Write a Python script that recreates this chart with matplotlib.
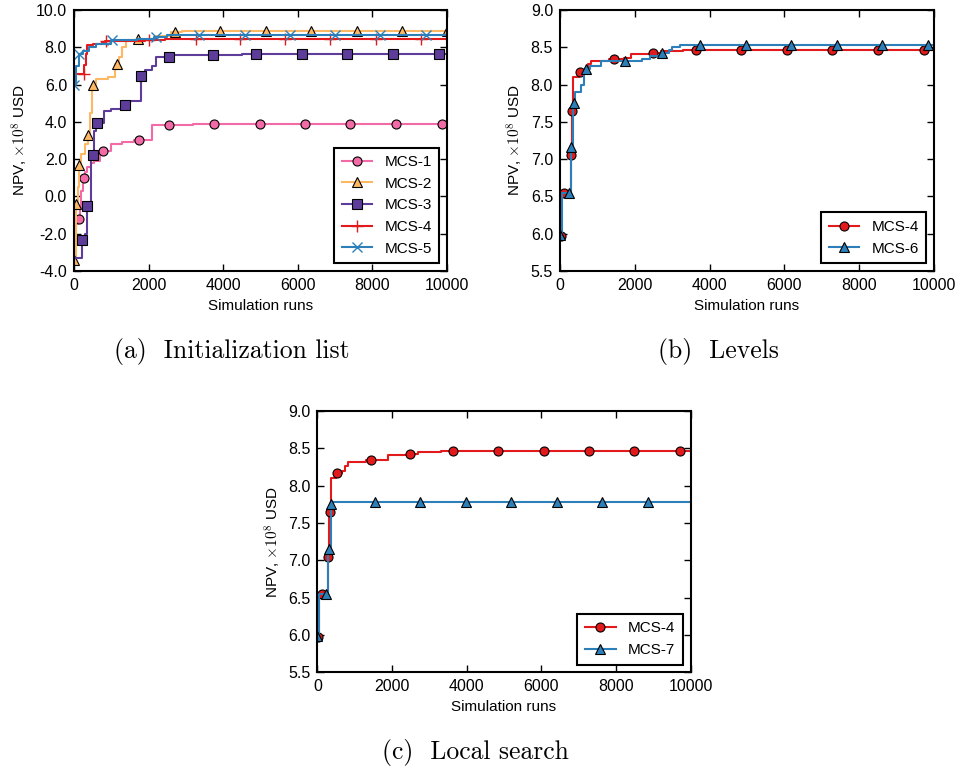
import numpy as np
import matplotlib.pyplot as plt
from matplotlib.ticker import FormatStrFormatter, MultipleLocator

plt.rcParams['font.family'] = ['Liberation Sans', 'DejaVu Sans']
plt.rcParams['mathtext.fontset'] = 'cm'
plt.rcParams['axes.unicode_minus'] = False

# ---- data ----
# step curves: x = simulation runs where the best NPV changes, y = NPV (x1e8 USD)
mcs1_x = [0, 50, 100, 150, 200, 250, 300, 350, 450, 550, 700, 1000, 1300, 1600, 2100, 3200, 10000]
mcs1_y = [-2.0, -1.5, -1.2, -0.6, 0.3, 1.0, 1.3, 1.6, 1.8, 1.9, 2.43, 2.8, 2.9, 3.02, 3.81, 3.87, 3.87]
mcs1_mx = [134, 268, 777, 1735, 2547, 3753, 4987, 6193, 7399, 8633, 9866]

mcs2_x = [0, 50, 100, 143, 200, 300, 367, 420, 480, 600, 900, 1100, 1200, 1300, 1400, 1700, 2200, 2600, 2900, 10000]
mcs2_y = [-3.4, -0.4, 0.5, 1.7, 2.3, 2.8, 3.3, 4.5, 6.0, 6.3, 6.4, 7.08, 7.5, 8.0, 8.4, 8.45, 8.6, 8.84, 8.9, 8.9]
mcs2_mx = [0, 54, 143, 367, 501, 1143, 1716, 2708, 3914, 5139, 6362, 7579, 8802, 9993]

mcs3_x = [0, 220, 300, 357, 450, 550, 600, 800, 1000, 1300, 1500, 1800, 1900, 2100, 2200, 2600, 4500, 10000]
mcs3_y = [-3.3, -2.35, -2.0, -0.5, 2.2, 3.5, 3.95, 4.6, 4.7, 4.9, 5.1, 6.47, 6.8, 7.0, 7.46, 7.57, 7.66, 7.66]
mcs3_mx = [223, 357, 509, 608, 1358, 1805, 2556, 3718, 4887, 6113, 7332, 8548, 9780]

mcs4_x = [0, 30, 280, 320, 350, 500, 650, 750, 820, 1300, 1700, 1900, 2450, 2700, 3300, 3600, 10000]
mcs4_y = [5.97, 6.55, 7.05, 7.65, 8.1, 8.17, 8.2, 8.27, 8.32, 8.34, 8.35, 8.41, 8.43, 8.45, 8.46, 8.47, 8.47]
mcs4_mx_a = [268, 850, 2011, 3262, 4442, 5649, 6863, 8088, 9311]
mcs4_mx = [27, 115, 294, 329, 535, 1435, 2487, 3630, 4848, 6064, 7278, 8495, 9719]

mcs5_x = [0, 50, 130, 250, 400, 600, 1000, 1700, 2150, 2500, 10000]
mcs5_y = [6.0, 7.0, 7.65, 7.8, 8.0, 8.2, 8.38, 8.45, 8.57, 8.66, 8.66]
mcs5_mx = [0, 134, 1028, 2190, 3351, 4576, 5791, 6989, 8204, 9428]

mcs6_x = [0, 50, 280, 350, 400, 550, 650, 700, 800, 1100, 1900, 2200, 2400, 2700, 2900, 3000, 3200, 10000]
mcs6_y = [5.98, 6.55, 7.16, 7.75, 7.9, 8.0, 8.15, 8.21, 8.25, 8.31, 8.31, 8.34, 8.38, 8.43, 8.46, 8.5, 8.53, 8.53]
mcs6_mx = [0, 230, 302, 374, 706, 1728, 2730, 3749, 4968, 6180, 7400, 8620, 9848]

mcs7_x = [0, 50, 280, 350, 400, 10000]
mcs7_y = [5.99, 6.55, 7.15, 7.75, 7.78, 7.78]
mcs7_mx = [0, 233, 305, 375, 1537, 2758, 3974, 5196, 6411, 7633, 8848]

PINK = '#f36ba6'
ORANGE = '#fdb863'
PURPLE = '#5e3c99'
RED = '#e31a1c'
BLUE = '#2c7fb8'


def step_at(xs, ys, mx):
    idx = np.searchsorted(xs, mx, side='right') - 1
    return np.asarray(ys)[idx]


def series(ax, xs, ys, mx, color, marker, label, ms=6.5, mfc=None):
    line, = ax.plot(xs, ys, drawstyle='steps-post', color=color, lw=1.5)
    if marker in ('+', 'x'):
        pts, = ax.plot(mx, step_at(xs, ys, mx), ls='none', marker=marker,
                       color=color, ms=ms, mew=1.0)
    else:
        pts, = ax.plot(mx, step_at(xs, ys, mx), ls='none', marker=marker,
                       mfc=mfc or color, mec='black', mew=0.8, ms=ms)
    return (line, pts), label


def style(ax, ylim, ystep):
    ax.set_xlim(0, 10000)
    ax.set_ylim(*ylim)
    ax.xaxis.set_major_locator(MultipleLocator(2000))
    ax.yaxis.set_major_locator(MultipleLocator(ystep))
    ax.yaxis.set_major_formatter(FormatStrFormatter('%.1f'))
    ax.tick_params(direction='in', top=True, right=True, length=5, width=1,
                   labelsize=11.5, pad=5)
    for s in ax.spines.values():
        s.set_linewidth(1.5)
    ax.set_xlabel('Simulation runs', fontsize=11)
    ax.set_ylabel(r'NPV, $\times10^8$ USD', fontsize=11)


def legend(ax, items):
    leg = ax.legend([h for h, _ in items], [l for _, l in items], loc='lower right',
                    fontsize=11, fancybox=False, framealpha=1, edgecolor='black',
                    handlelength=2.0, borderpad=0.5, labelspacing=0.5)
    leg.get_frame().set_linewidth(1.5)


fig = plt.figure(figsize=(9.58, 7.70), dpi=100)
ax_a = fig.add_axes([0.0772, 0.648, 0.3894, 0.339])
ax_b = fig.add_axes([0.5846, 0.648, 0.3904, 0.339])
ax_c = fig.add_axes([0.3314, 0.127, 0.3894, 0.339])

# (a) Initialization list
items = [
    series(ax_a, mcs1_x, mcs1_y, mcs1_mx, PINK, 'o', 'MCS-1'),
    series(ax_a, mcs2_x, mcs2_y, mcs2_mx, ORANGE, '^', 'MCS-2'),
    series(ax_a, mcs3_x, mcs3_y, mcs3_mx, PURPLE, 's', 'MCS-3'),
    series(ax_a, mcs4_x, mcs4_y, mcs4_mx_a, RED, '+', 'MCS-4', ms=8),
    series(ax_a, mcs5_x, mcs5_y, mcs5_mx, BLUE, 'x', 'MCS-5', ms=7),
]
style(ax_a, (-4, 10), 2)
legend(ax_a, items)

# (b) Levels
items = [
    series(ax_b, mcs4_x, mcs4_y, mcs4_mx, RED, 'o', 'MCS-4'),
    series(ax_b, mcs6_x, mcs6_y, mcs6_mx, BLUE, '^', 'MCS-6'),
]
style(ax_b, (5.5, 9.0), 0.5)
legend(ax_b, items)

# (c) Local search
items = [
    series(ax_c, mcs4_x, mcs4_y, mcs4_mx, RED, 'o', 'MCS-4'),
    series(ax_c, mcs7_x, mcs7_y, mcs7_mx, BLUE, '^', 'MCS-7'),
]
style(ax_c, (5.5, 9.0), 0.5)
legend(ax_c, items)

cap = dict(fontsize=18.5, family='cmr10', ha='center', va='center')
fig.text(232 / 958, 1 - 352 / 770, '(a)  Initialization list', **cap)
fig.text(718 / 958, 1 - 352 / 770, '(b)  Levels', **cap)
fig.text(475 / 958, 1 - 752 / 770, '(c)  Local search', **cap)

fig.savefig('out.png', dpi=100)
